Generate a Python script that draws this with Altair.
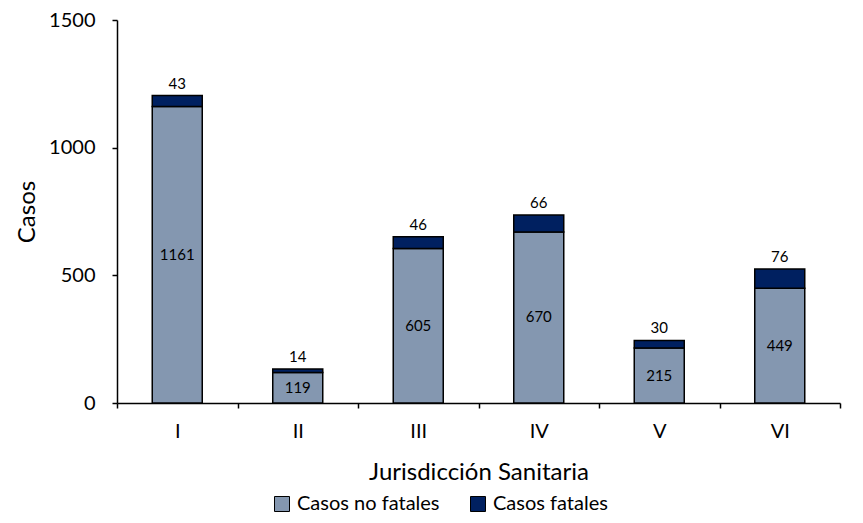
import altair as alt
import pandas as pd

jurisdicciones = ["I", "II", "III", "IV", "V", "VI"]
no_fatales = [1161, 119, 605, 670, 215, 449]
fatales = [43, 14, 46, 66, 30, 76]
series = ["Casos no fatales", "Casos fatales"]
colores = ["#8497B0", "#002060"]

rows = []
for j, nf, f in zip(jurisdicciones, no_fatales, fatales):
    rows.append({"j": j, "serie": series[0], "valor": nf, "orden": 0})
    rows.append({"j": j, "serie": series[1], "valor": f, "orden": 1})
df = pd.DataFrame(rows)

wide = pd.DataFrame({"j": jurisdicciones, "nf": no_fatales, "f": fatales})
wide["total"] = wide["nf"] + wide["f"]
wide["mid"] = wide["nf"] / 2

FONT = "Lato"
W, H = 723, 383

xenc = alt.X(
    "j:N",
    sort=jurisdicciones,
    scale=alt.Scale(paddingInner=0, paddingOuter=0),
    axis=alt.Axis(
        title="Jurisdicción Sanitaria",
        labelAngle=0,
        tickBand="extent",
        tickSize=5,
        labelPadding=13,
        titlePadding=19,
    ),
)
yscale = alt.Scale(domain=[0, 1500], nice=False)

bars = alt.Chart(df).mark_bar(
    width=alt.RelativeBandSize(0.415), stroke="black", strokeWidth=1.5
).encode(
    x=xenc,
    y=alt.Y(
        "valor:Q",
        stack="zero",
        scale=yscale,
        axis=alt.Axis(
            title="Casos",
            values=[0, 500, 1000, 1500],
            format="d",
            grid=False,
            tickSize=5,
            labelPadding=17,
            titlePadding=9,
        ),
    ),
    color=alt.Color(
        "serie:N",
        scale=alt.Scale(domain=series, range=colores),
        legend=alt.Legend(
            title=None,
            orient="none",
            direction="horizontal",
            legendX=155,
            legendY=474,
            symbolType="square",
            symbolSize=225,
            symbolStrokeColor="black",
            symbolStrokeWidth=1,
            labelFont=FONT,
            labelFontSize=20,
            labelColor="#000000",
            columnPadding=28,
            labelOffset=5,
        ),
    ),
    order=alt.Order("orden:Q"),
)

mid_text = alt.Chart(wide).mark_text(
    font=FONT, fontSize=15, color="black", baseline="middle"
).encode(
    x=alt.X("j:N", sort=jurisdicciones),
    y=alt.Y("mid:Q", scale=yscale),
    text=alt.Text("nf:Q"),
)

top_text = alt.Chart(wide).mark_text(
    font=FONT, fontSize=15, color="black", baseline="bottom", dy=-4
).encode(
    x=alt.X("j:N", sort=jurisdicciones),
    y=alt.Y("total:Q", scale=yscale),
    text=alt.Text("f:Q"),
)

chart = (
    alt.layer(bars, mid_text, top_text)
    .properties(
        width=W,
        height=H,
        autosize=alt.AutoSizeParams(type="none"),
        padding={"left": 109, "top": 12, "right": 15, "bottom": 112},
    )
    .configure_view(stroke=None)
    .configure_axis(
        domainColor="black",
        domainWidth=1.5,
        tickColor="black",
        tickWidth=1.5,
        labelFont=FONT,
        titleFont=FONT,
        labelFontSize=20,
        titleFontSize=24,
        labelColor="black",
        titleColor="black",
        titleFontWeight="normal",
    )
)

chart.save("out.html", embed_options={"renderer": "svg", "actions": False})
